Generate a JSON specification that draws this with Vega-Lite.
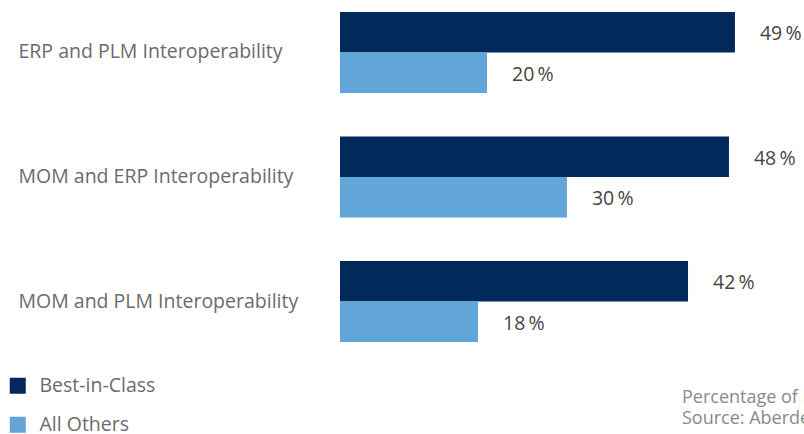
{
  "$schema": "https://vega.github.io/schema/vega-lite/v6.json",
  "width": 464,
  "height": 354,
  "autosize": {"type": "none"},
  "padding": {"left": 340, "top": 0, "right": 0, "bottom": 80},
  "background": "white",
  "config": {"view": {"stroke": null}, "font": "Open Sans"},
  "title": {
    "text": "Percentage of Respondents",
    "subtitle": "Source: Aberdeen",
    "orient": "bottom",
    "anchor": "start",
    "frame": "group",
    "align": "left",
    "baseline": "top",
    "dx": 342,
    "offset": -46,
    "fontSize": 18,
    "fontWeight": "normal",
    "color": "#8a8a8a",
    "subtitleFontSize": 18,
    "subtitleColor": "#8a8a8a",
    "subtitlePadding": 3
  },
  "data": {
    "values": [
      {"category": "ERP and PLM Interoperability", "group": "Best-in-Class", "value": 49.0, "label": "49\u2009%"},
      {"category": "ERP and PLM Interoperability", "group": "All Others", "value": 18.24, "label": "20\u2009%"},
      {"category": "MOM and ERP Interoperability", "group": "Best-in-Class", "value": 48.26, "label": "48\u2009%"},
      {"category": "MOM and ERP Interoperability", "group": "All Others", "value": 28.16, "label": "30\u2009%"},
      {"category": "MOM and PLM Interoperability", "group": "Best-in-Class", "value": 43.18, "label": "42\u2009%"},
      {"category": "MOM and PLM Interoperability", "group": "All Others", "value": 17.12, "label": "18\u2009%"}
    ]
  },
  "encoding": {
    "y": {
      "field": "category",
      "type": "nominal",
      "sort": null,
      "scale": {"paddingInner": 0.35, "paddingOuter": 0.0964},
      "axis": {
        "title": null,
        "domain": false,
        "ticks": false,
        "labelAlign": "left",
        "labelPadding": 322,
        "labelFontSize": 19.5,
        "labelColor": "#6b6b6b",
        "labelLimit": 400
      }
    },
    "yOffset": {"field": "group", "type": "nominal", "sort": ["Best-in-Class", "All Others"]},
    "x": {
      "field": "value",
      "type": "quantitative",
      "scale": {"domain": [0, 57.57], "nice": false},
      "axis": null
    }
  },
  "layer": [
    {
      "mark": {"type": "bar"},
      "encoding": {
        "color": {
          "field": "group",
          "type": "nominal",
          "scale": {"domain": ["Best-in-Class", "All Others"], "range": ["#012a5a", "#62a5d8"]},
          "legend": {
            "title": null,
            "orient": "none",
            "legendX": -332,
            "legendY": 376,
            "direction": "vertical",
            "symbolType": "square",
            "symbolSize": 256,
            "symbolStrokeWidth": 0,
            "labelFontSize": 19.5,
            "labelColor": "#6b6b6b",
            "labelOffset": 12,
            "rowPadding": 18
          }
        }
      }
    },
    {
      "mark": {"type": "text", "align": "left", "baseline": "middle", "dx": 25, "dy": 2, "fontSize": 19.5, "color": "#454545"},
      "encoding": {"text": {"field": "label"}}
    }
  ]
}
